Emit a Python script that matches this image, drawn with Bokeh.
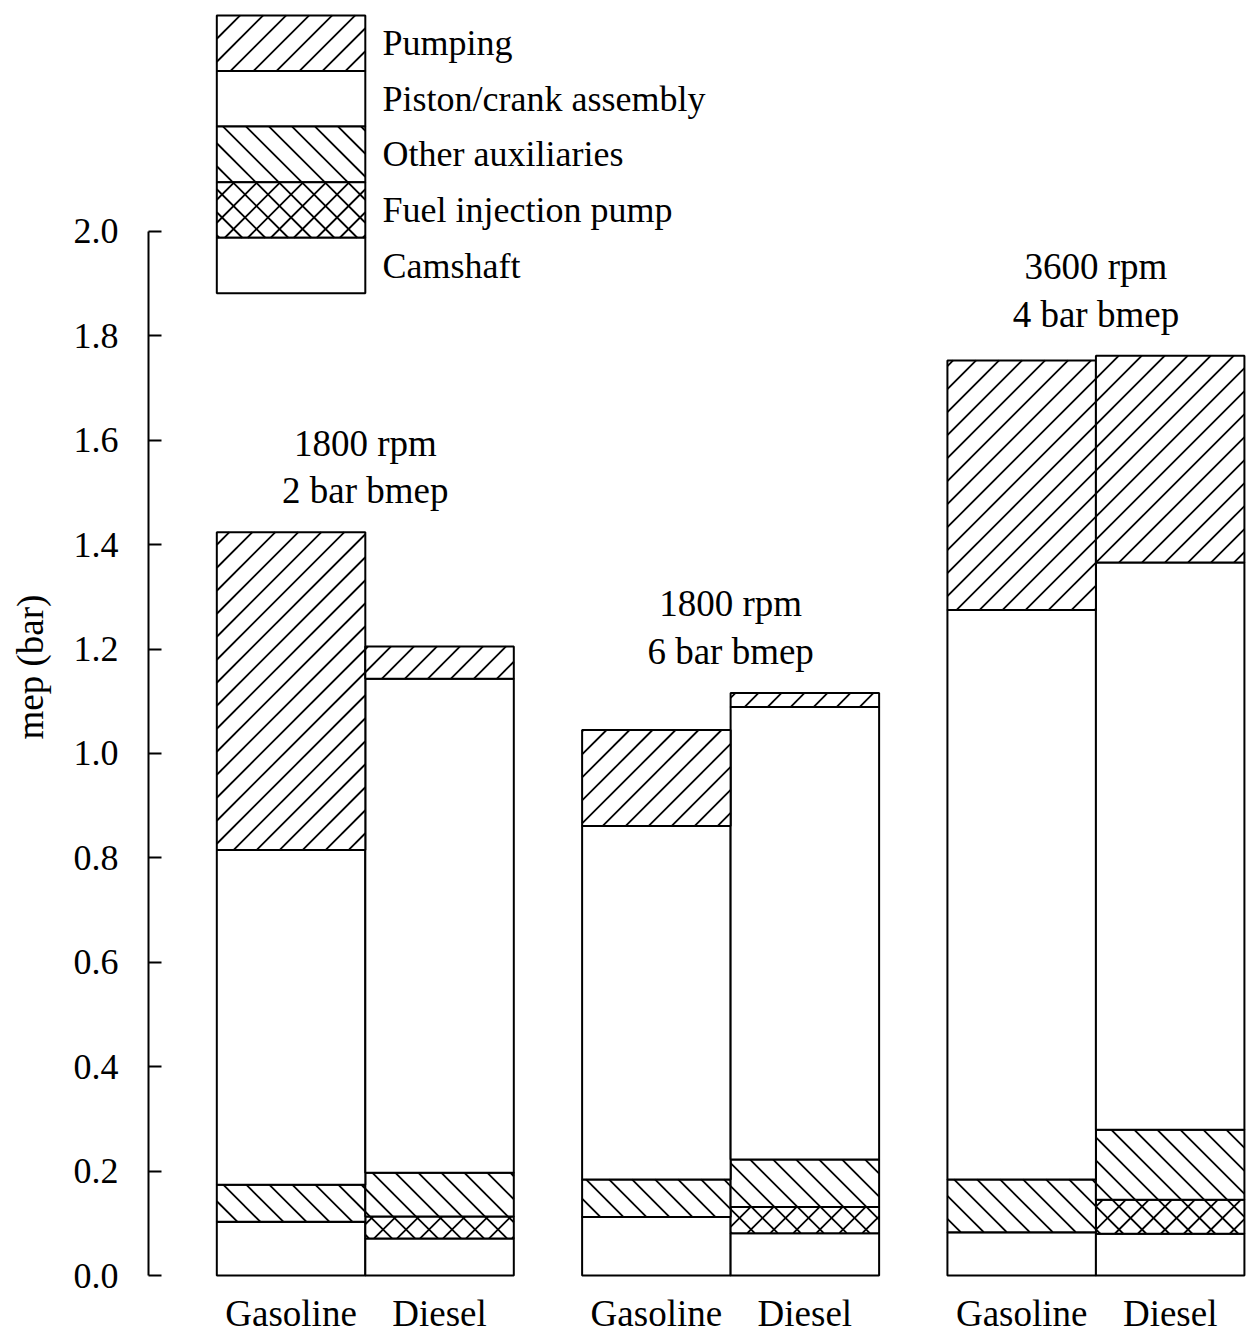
import math
from bokeh.plotting import figure
from bokeh.models import ColumnDataSource, FixedTicker, Range1d
from bokeh.core.properties import value
from bokeh.embed import file_html
from bokeh.resources import INLINE

# Operating points (one group of two bars each) and fuel types
conditions = ["1800 rpm\n2 bar bmep", "1800 rpm\n6 bar bmep", "3600 rpm\n4 bar bmep"]
fuels = ["Gasoline", "Diesel"]

# Friction components, bottom of the stack first, with their shading
components = ["Camshaft", "Fuel injection pump", "Other auxiliaries",
              "Piston/crank assembly", "Pumping"]
shading = ["", "x", "\\", "", "/"]

# mep contribution of each component (bar), bars ordered
# G-2bar, D-2bar, G-6bar, D-6bar, G-4bar(3600), D-4bar(3600)
camshaft      = [0.103, 0.071, 0.112, 0.081, 0.083, 0.080]
fuel_pump     = [0.000, 0.042, 0.000, 0.050, 0.000, 0.065]
other_aux     = [0.071, 0.084, 0.072, 0.091, 0.101, 0.134]
piston_crank  = [0.641, 0.946, 0.677, 0.867, 1.091, 1.087]
pumping       = [0.609, 0.062, 0.184, 0.027, 0.478, 0.396]

y_ticks = [0.0, 0.2, 0.4, 0.6, 0.8, 1.0, 1.2, 1.4, 1.6, 1.8, 2.0]

FONT = "Liberation Serif"
GROUP_STEP = 2.46           # centre distance between groups, in bar widths
W, H = 1246, 1333
LEFT = 148                  # room for the y axis
X_START, X_END = -0.96, 6.434
Y_START, Y_END = -0.1111, 2.4425
PX_X = (W - LEFT) / (X_END - X_START)   # pixels per x unit
PX_Y = H / (Y_END - Y_START)            # pixels per y unit
SPACING = 23.0                          # hatch line pitch along the axes, px


def hatch_segments(x0, x1, y0, y1, kind):
    """45-degree hatch lines clipped to the box [x0,x1]x[y0,y1]."""
    X0, X1, Y0, Y1 = x0 * PX_X, x1 * PX_X, y0 * PX_Y, y1 * PX_Y
    segs = []
    if Y1 - Y0 <= 0.5:
        return segs
    if kind in ("/", "x"):
        for k in range(math.ceil((Y0 - X1) / SPACING), math.floor((Y1 - X0) / SPACING) + 1):
            c = k * SPACING
            a, b = max(X0, Y0 - c), min(X1, Y1 - c)
            if b > a:
                segs.append((a / PX_X, (a + c) / PX_Y, b / PX_X, (b + c) / PX_Y))
    if kind in ("\\", "x"):
        for k in range(math.ceil((X0 + Y0) / SPACING), math.floor((X1 + Y1) / SPACING) + 1):
            c = k * SPACING
            a, b = max(X0, c - Y1), min(X1, c - Y0)
            if b > a:
                segs.append((a / PX_X, (c - a) / PX_Y, b / PX_X, (c - b) / PX_Y))
    return segs


xs, labels = [], []
for g in range(len(conditions)):
    for j, f in enumerate(fuels):
        xs.append(g * GROUP_STEP + j)
        labels.append(f)

series = [camshaft, fuel_pump, other_aux, piston_crank, pumping]
data = dict(x=xs, fuel=labels)
for name, vals in zip(components, series):
    data[name] = vals
source = ColumnDataSource(data)

p = figure(width=W, height=H, output_backend="svg", toolbar_location=None,
           x_range=Range1d(X_START, X_END), y_range=Range1d(Y_START, Y_END),
           x_axis_location=None,
           min_border_left=LEFT, min_border_right=0, min_border_top=0,
           min_border_bottom=0)
p.outline_line_color = None
p.grid.visible = False
p.background_fill_color = "white"
p.border_fill_color = "white"

p.vbar_stack(components, x="x", width=1.0, source=source,
             fill_color="white", line_color="black", line_width=2)

# hatch lines for the shaded components
hx0, hy0, hx1, hy1 = [], [], [], []
for i, x in enumerate(xs):
    base = 0.0
    for vals, kind in zip(series, shading):
        top = base + vals[i]
        if kind:
            for s in hatch_segments(x - 0.5, x + 0.5, base, top, kind):
                hx0.append(s[0]); hy0.append(s[1]); hx1.append(s[2]); hy1.append(s[3])
        base = top
p.segment(x0=hx0, y0=hy0, x1=hx1, y1=hy1, line_color="black", line_width=1.8)

# y axis
ya = p.yaxis[0]
ya.ticker = FixedTicker(ticks=y_ticks)
ya.bounds = (0, 2.0)
ya.major_label_overrides = {t: f"{t:.1f}" for t in y_ticks}
ya.minor_tick_line_color = None
ya.major_tick_in = 13
ya.major_tick_out = 0
ya.major_tick_line_width = 2
ya.major_tick_line_color = "black"
ya.axis_line_width = 2
ya.axis_line_color = "black"
ya.major_label_standoff = 30
ya.major_label_text_font = FONT
ya.major_label_text_font_size = "36px"
ya.major_label_text_color = "black"
ya.axis_label = "mep (bar)"
ya.axis_label_standoff = 20
ya.axis_label_text_font = FONT
ya.axis_label_text_font_size = "37px"
ya.axis_label_text_font_style = "normal"
ya.axis_label_text_color = "black"

# fuel names under each bar
p.text(x=xs, y=[0.0] * len(xs), text=labels, y_offset=38,
       text_align="center", text_baseline="middle",
       text_font=value(FONT), text_font_size="37px", text_color="black")

# Operating-point captions above each group
tops = [sum(v) for v in zip(*series)]
cap = ColumnDataSource(dict(
    x=[g * GROUP_STEP + 0.5 for g in range(len(conditions))],
    y=[max(tops[2 * g], tops[2 * g + 1]) for g in range(len(conditions))],
    text=conditions))
p.text(x="x", y="y", text="text", source=cap, text_align="center",
       text_baseline="bottom", y_offset=-21, text_line_height=1.16,
       text_font=value(FONT), text_font_size="37px", text_color="black")

# Legend: stacked swatches aligned with the first bar, top entry first
leg_top = 2.414
row_h = 0.1065
leg_names = components[::-1]
leg_kind = shading[::-1]
leg = ColumnDataSource(dict(
    left=[xs[0] - 0.5] * len(leg_names),
    right=[xs[0] + 0.5] * len(leg_names),
    top=[leg_top - i * row_h for i in range(len(leg_names))],
    bottom=[leg_top - (i + 1) * row_h for i in range(len(leg_names))],
    ymid=[leg_top - (i + 0.5) * row_h for i in range(len(leg_names))],
    tx=[xs[0] + 0.616] * len(leg_names),
    name=leg_names))
p.quad(left="left", right="right", top="top", bottom="bottom", source=leg,
       fill_color="white", line_color="black", line_width=2)
lx0, ly0, lx1, ly1 = [], [], [], []
for i, kind in enumerate(leg_kind):
    if kind:
        t = leg_top - i * row_h
        for s in hatch_segments(xs[0] - 0.5, xs[0] + 0.5, t - row_h, t, kind):
            lx0.append(s[0]); ly0.append(s[1]); lx1.append(s[2]); ly1.append(s[3])
p.segment(x0=lx0, y0=ly0, x1=lx1, y1=ly1, line_color="black", line_width=1.8)
p.text(x="tx", y="ymid", text="name", source=leg, text_align="left",
       text_baseline="middle", text_font=value(FONT), text_font_size="36px",
       text_color="black")

open("out.html", "w").write(file_html(p, INLINE))
